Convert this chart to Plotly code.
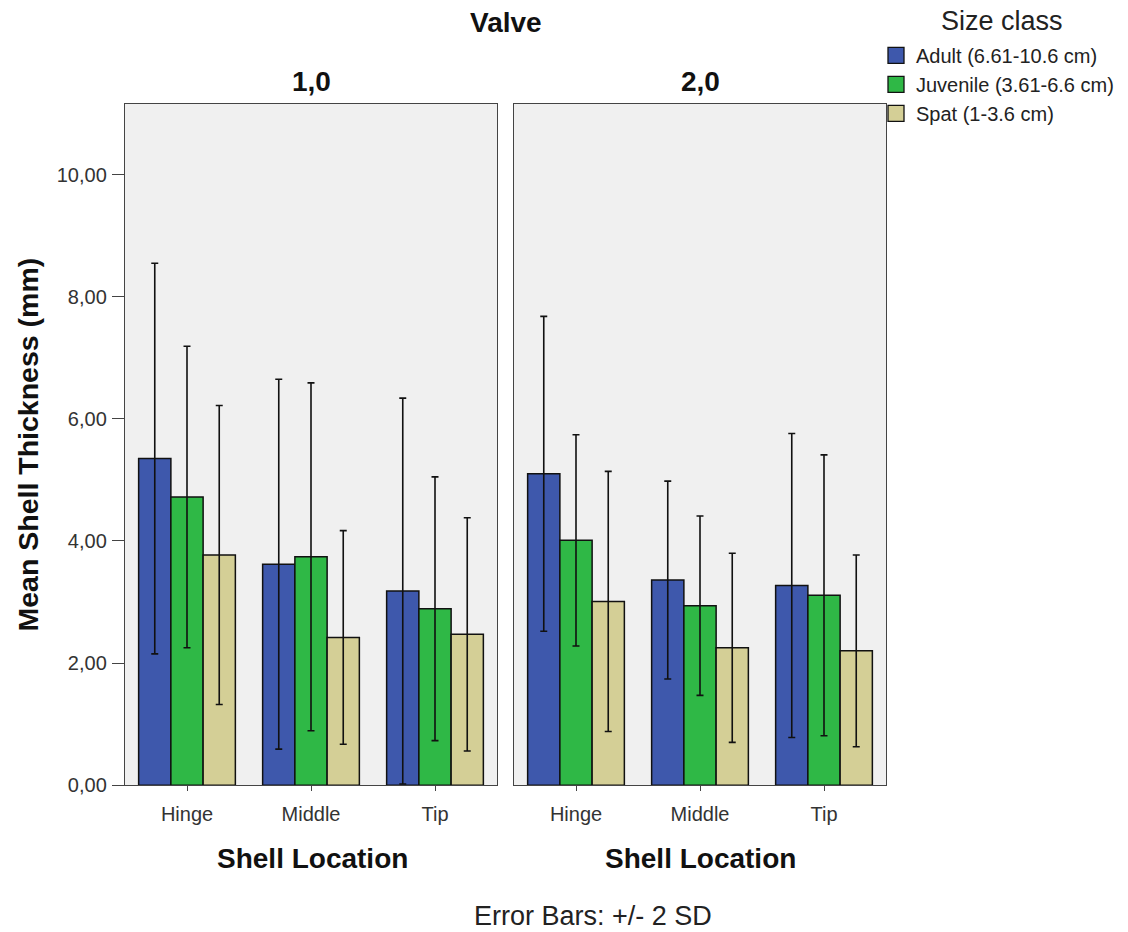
import plotly.graph_objects as go

locations = ["Hinge", "Middle", "Tip"]
size_classes = ["Adult (6.61-10.6 cm)", "Juvenile (3.61-6.6 cm)", "Spat (1-3.6 cm)"]
colors = ["#3e58ac", "#2fb846", "#d4cf96"]

# Valve 1,0 : mean and 2*SD
v1_adult = [5.35, 3.62, 3.18]
v1_juvenile = [4.72, 3.74, 2.89]
v1_spat = [3.77, 2.42, 2.47]
v1_adult_err = [3.20, 3.03, 3.16]
v1_juvenile_err = [2.47, 2.85, 2.16]
v1_spat_err = [2.45, 1.75, 1.91]

# Valve 2,0
v2_adult = [5.10, 3.36, 3.27]
v2_juvenile = [4.01, 2.94, 3.11]
v2_spat = [3.01, 2.25, 2.20]
v2_adult_err = [2.58, 1.62, 2.49]
v2_juvenile_err = [1.73, 1.47, 2.30]
v2_spat_err = [2.13, 1.55, 1.57]

y_ticks = [0, 2, 4, 6, 8, 10]

W, H = 1128, 932
HE = 922.0
def px(x):
    return x / W
def py(y):
    return 1 - y / HE

FONT = "Liberation Sans, Arial, sans-serif"
fig = go.Figure()
panels = [
    ("x", "y", [v1_adult, v1_juvenile, v1_spat], [v1_adult_err, v1_juvenile_err, v1_spat_err]),
    ("x2", "y2", [v2_adult, v2_juvenile, v2_spat], [v2_adult_err, v2_juvenile_err, v2_spat_err]),
]
for xa, ya, vals, errs in panels:
    for i in range(3):
        fig.add_trace(go.Bar(
            x=locations, y=vals[i], name=size_classes[i],
            marker=dict(color=colors[i], line=dict(color="#111111", width=1.5)),
            error_y=dict(type="data", array=errs[i], visible=True,
                         color="#111111", thickness=1.6, width=3.5),
            xaxis=xa, yaxis=ya, showlegend=False,
        ))
# legend entries (square swatches)
for i in range(3):
    fig.add_trace(go.Scatter(
        x=[None], y=[None], mode="markers", name=size_classes[i],
        marker=dict(symbol="square", size=16, color=colors[i],
                    line=dict(color="#111111", width=1.3)),
        showlegend=True, xaxis="x", yaxis="y",
    ))

ymax = 11.16
axis_common = dict(showline=True, linecolor="#444444", linewidth=1.4, mirror=True,
                   showgrid=False, zeroline=False)
xaxis_common = dict(type="category", ticks="outside", ticklen=5, tickcolor="#444444",
                    ticklabelstandoff=6, tickfont=dict(size=20, color="#333333"),
                    **axis_common)
fig.update_layout(
    width=W, height=H,
    margin=dict(l=0, r=0, t=0, b=0),
    paper_bgcolor="white", plot_bgcolor="#f0f0f0",
    separators=",.",
    barmode="group", bargap=0.22, bargroupgap=0,
    font=dict(family=FONT, color="#222222"),
    xaxis=dict(domain=[px(125), px(497)], anchor="y", **xaxis_common),
    xaxis2=dict(domain=[px(514), px(886)], anchor="y2", **xaxis_common),
    yaxis=dict(domain=[py(786), py(104)], anchor="x", range=[0, ymax],
               tickvals=y_ticks, tickformat=".2f", ticks="outside", ticklen=12,
               ticklabelstandoff=1,
               tickcolor="#444444", tickfont=dict(size=20, color="#333333"),
               **axis_common),
    yaxis2=dict(domain=[py(786), py(104)], anchor="x2", range=[0, ymax],
                tickvals=y_ticks, showticklabels=False, ticks="", **axis_common),
    legend=dict(x=px(876), y=py(36), xanchor="left", yanchor="top",
                font=dict(size=20, color="#222222"), bgcolor="rgba(0,0,0,0)",
                traceorder="normal", itemwidth=30),
)

bold = dict(family=FONT, size=28, color="#111111")
ann = [
    dict(text="<b>Valve</b>", x=px(506), y=py(23), font=bold),
    dict(text="<b>1,0</b>", x=px(311), y=py(82), font=bold),
    dict(text="<b>2,0</b>", x=px(700), y=py(82), font=bold),
    dict(text="<b>Shell Location</b>", x=px(312), y=py(859), font=bold),
    dict(text="<b>Shell Location</b>", x=px(700), y=py(859), font=bold),
    dict(text="<b>Mean Shell Thickness (mm)</b>", x=px(28), y=py(445),
         font=dict(family=FONT, size=28.5, color="#111111"), textangle=-90),
    dict(text="Size class", x=px(1002), y=py(21), font=dict(family=FONT, size=27, color="#222222")),
    dict(text="Error Bars: +/- 2 SD", x=px(593), y=py(917), font=dict(family=FONT, size=27, color="#222222")),
]
for a in ann:
    fig.add_annotation(xref="paper", yref="paper", showarrow=False,
                       xanchor="center", yanchor="middle", **a)

fig.write_html("out.html")
